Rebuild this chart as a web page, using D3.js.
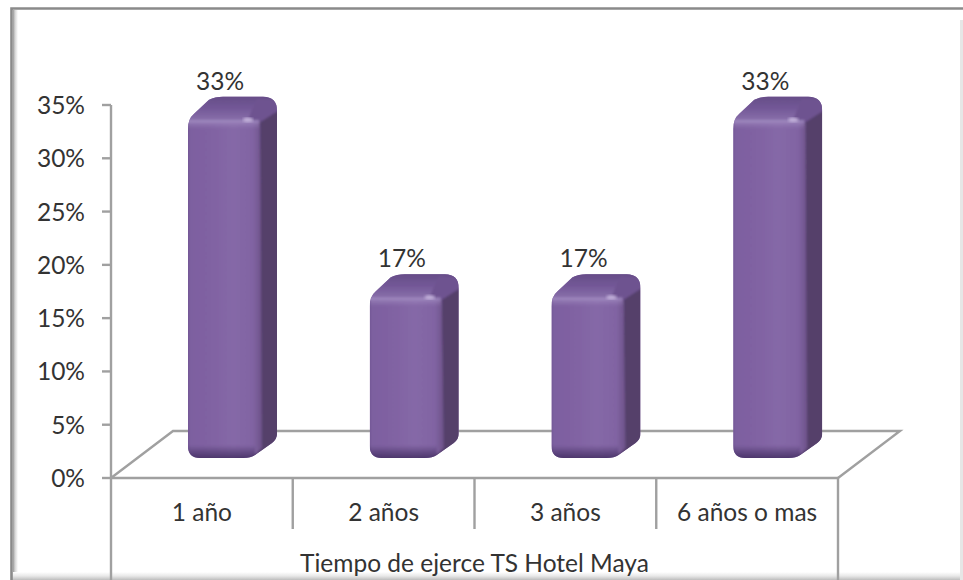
<!DOCTYPE html>
<html><head><meta charset="utf-8">
<script src="https://cdn.jsdelivr.net/npm/d3@7"></script>
<style>html,body{margin:0;padding:0;background:#fff}svg{display:block}text{font-family:Lato,"Open Sans",sans-serif;fill:#333}</style>
</head><body><div id="c"></div>
<script>
const categories=["1 año","2 años","3 años","6 años o mas"];
const values=[33.33,16.67,16.67,33.33];
const labels=["33%","17%","17%","33%"];
const ticks=[0,5,10,15,20,25,30,35];
const axisTitle="Tiempo de ejerce TS Hotel Maya";
const W=963,H=580;
const x0=111,x1=838,y0=478,yTop=105,dx=62,dy=47;
const x=d3.scaleBand().domain(categories).range([x0,x1]);
const y=d3.scaleLinear().domain([0,35]).range([y0,yTop]);
const svg=d3.select("#c").append("svg").attr("width",W).attr("height",H);
const defs=svg.append("defs");
function lg(id,stops,vertical){const g=defs.append("linearGradient").attr("id",id).attr("x1",0).attr("y1",0).attr("x2",vertical?0:1).attr("y2",vertical?1:0);
 stops.forEach(s=>g.append("stop").attr("offset",s[0]).attr("stop-color",s[1]));}
lg("front",[[0,"#654c86"],[.05,"#7d60a0"],[.3,"#8062a2"],[.62,"#8568a7"],[.88,"#8164a3"],[1,"#6d5289"]]);
lg("bottom",[[0,"rgba(60,40,90,0)"],[.5,"rgba(60,40,90,.45)"],[1,"rgba(60,40,90,.85)"]],true);
lg("topg",[[0,"#624a83"],[.5,"#735897"],[1,"#8f76b0"]],true);
lg("rim",[[0,"rgba(175,155,205,.55)"],[1,"rgba(175,155,205,0)"]],true);
lg("shL",[[0,"#9a9a9a"],[.4,"#d4d4d4"],[1,"#fff"]]);
lg("shB",[[0,"#fff"],[.5,"#e8e8e8"],[1,"#bdbdbd"]],true);
defs.append("filter").attr("id","soft").append("feGaussianBlur").attr("stdDeviation",1.1);
defs.append("filter").attr("id","edge").append("feGaussianBlur").attr("stdDeviation",.5);
defs.append("filter").attr("id","glow").append("feGaussianBlur").attr("stdDeviation",1.5);

// frame
svg.append("rect").attr("x",13).attr("y",10).attr("width",5).attr("height",H-10).attr("fill","url(#shL)");
svg.append("rect").attr("x",12).attr("y",572).attr("width",W-12).attr("height",8).attr("fill","url(#shB)");
svg.append("path").attr("d",`M11.5,${H} V8.5 H${W} `).attr("fill","none").attr("stroke","#8a8a8a").attr("stroke-width",2.6);
svg.append("rect").attr("x",960).attr("y",20).attr("width",3).attr("height",H-20).attr("fill","#e6e6e6");

// floor and axes
const ax="#a0a0a0";
const line=(d)=>svg.append("path").attr("d",d).attr("fill","none").attr("stroke",ax).attr("stroke-width",2.4);
line(`M${x0},${y0} L${x0+dx},${y0-dy} H${x1+dx} L${x1},${y0}`);
line(`M${x0},${yTop} V${H}`);
line(`M${x0},${y0} H${x1} V${H}`);
ticks.forEach(t=>line(`M${x0-9},${y(t)} H${x0}`));
categories.slice(1).forEach(c=>line(`M${x(c)},${y0} V529`));

// bars
const fLeft=77,fW=73,sideW=16,depthX=27,depthY=20,base=20,lift=6;
const bars=svg.selectAll("g.bar").data(categories.map((c,i)=>({c,v:values[i],l:labels[i]}))).join("g").attr("class","bar")
 .attr("transform",d=>`translate(${x(d.c)+fLeft},0)`);
bars.each(function(d,i){
 const g=d3.select(this),T=y(d.v)-lift,B=y0-base,R=fW,E=fW+sideW,TT=T-depthY;
 const sil=`M0,${T+12} Q0,${T+2} 6,${T-3} L${depthX-6},${TT+3} Q${depthX},${TT} ${depthX+8},${TT} H${E-14} Q${E},${TT} ${E},${TT+14} V${B-24} Q${E},${B-19} ${E-5},${B-15} L${R-6},${B-3} Q${R-10},${B} ${R-18},${B} H12 Q0,${B} 0,${B-12} Z`;
 defs.append("clipPath").attr("id","sil"+i).append("path").attr("d",sil);
 const outer=g.append("g").attr("filter","url(#edge)").append("g").attr("clip-path",`url(#sil${i})`);
 outer.append("rect").attr("x",-2).attr("y",TT-2).attr("width",E+4).attr("height",B-TT+4).attr("fill","#7f62a1");
 const inner=outer.append("g").attr("filter","url(#soft)");
 // side face
 inner.append("path").attr("d",`M${R-1},${T+4} L${E+4},${TT+12} V${B} H${R-10} L${R},${B-10} Z`).attr("fill","#54406b");
 // top face
 inner.append("path").attr("d",`M-3,${T+6} L${depthX},${TT-4} H${E+4} L${E+4},${TT+12} L${R},${T+4} L${R-10},${T+7} Z`).attr("fill","url(#topg)");
 // lighter slab at the upper right of the top face
 inner.append("path").attr("d",`M${R-13},${T+3} L${R},${T+5} L${E+4},${TT+12} V${TT+3} L${R-4},${TT+2} Q${R-9},${T-8} ${R-13},${T+3} Z`).attr("fill","#6e5390");
 // front face
 inner.append("path").attr("d",`M-2,${T+6} H${R-1} L${R+1},${B-10} L${R-12},${B+2} H-2 Z`).attr("fill","url(#front)");
 // bottom shading
 inner.append("rect").attr("x",-2).attr("y",B-13).attr("width",R-4).attr("height",15).attr("fill","url(#bottom)");
 // top rim of front
 inner.append("rect").attr("x",0).attr("y",T+3).attr("width",R-2).attr("height",9).attr("fill","url(#rim)");
 // highlight
 g.append("ellipse").attr("cx",R-13).attr("cy",T+3).attr("rx",5).attr("ry",2.2).attr("fill","#c4b3dc").attr("filter","url(#glow)");
});

// text
const fs=24.5;
const tk=svg.append("g").attr("font-size",fs);
tk.selectAll("text").data(ticks).join("text").attr("x",85).attr("y",d=>y(d)+9).attr("text-anchor","end").text(d=>d+"%");
svg.append("g").attr("font-size",fs).selectAll("text").data(categories).join("text")
 .attr("x",c=>x(c)+x.bandwidth()/2).attr("y",521).attr("text-anchor","middle").text(c=>c);
bars.append("text").attr("font-size",fs).attr("text-anchor","middle")
 .attr("x",32).attr("y",d=>y(d.v)-lift-27).text(d=>d.l);
svg.append("text").attr("font-size",fs).attr("x",474.5).attr("y",572).attr("text-anchor","middle").text(axisTitle);
</script></body></html>
